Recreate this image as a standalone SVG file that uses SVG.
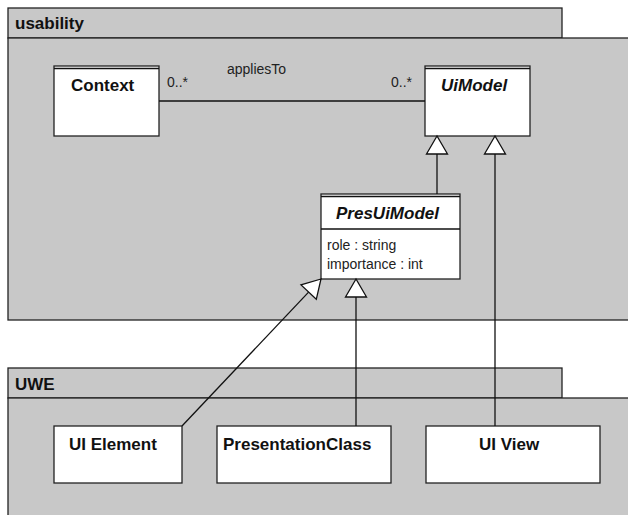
<svg xmlns="http://www.w3.org/2000/svg" width="628" height="515" viewBox="0 0 628 515">
  <style>
    .pkg { fill: #c8c8c8; stroke: #222; stroke-width: 1.3; }
    .cls { fill: #fff; stroke: #222; stroke-width: 1.3; }
    .edge { fill: none; stroke: #111; stroke-width: 1.3; }
    .tri { fill: #fff; stroke: #111; stroke-width: 1.3; stroke-linejoin: miter; }
    .title { font-family: "Liberation Sans", Arial, sans-serif; font-size: 17px; font-weight: bold; fill: #111; }
    .abstract { font-style: italic; }
    .small { font-family: "Liberation Sans", Arial, sans-serif; font-size: 14px; fill: #222; }
  </style>
  <rect width="628" height="515" fill="#fff"/>

  <!-- package: usability -->
  <g id="pkg-usability">
    <rect class="pkg" x="8" y="8" width="554" height="30"/>
    <rect class="pkg" x="8" y="38" width="625" height="282"/>
    <text class="title" x="15" y="29">usability</text>
  </g>

  <!-- package: UWE -->
  <g id="pkg-uwe">
    <rect class="pkg" x="8" y="368" width="554" height="30"/>
    <rect class="pkg" x="8" y="398" width="625" height="130"/>
    <text class="title" x="15" y="390">UWE</text>
  </g>

  <!-- classes -->
  <g id="cls-context">
    <rect class="cls" x="54" y="66" width="105" height="70"/>
    <line class="edge" x1="54" y1="68.5" x2="159" y2="68.5"/>
    <text class="title" x="71" y="91">Context</text>
  </g>

  <g id="cls-uimodel">
    <rect class="cls" x="425" y="66" width="105" height="70"/>
    <line class="edge" x1="425" y1="68.5" x2="530" y2="68.5"/>
    <text class="title abstract" x="441" y="91">UiModel</text>
  </g>

  <g id="cls-presuimodel">
    <rect class="cls" x="321" y="194" width="139" height="85"/>
    <line class="edge" x1="321" y1="196.5" x2="460" y2="196.5"/>
    <line class="edge" x1="321" y1="229" x2="460" y2="229"/>
    <text class="title abstract" x="336" y="219">PresUiModel</text>
    <text class="small" x="327" y="250">role : string</text>
    <text class="small" x="327" y="269">importance : int</text>
  </g>

  <g id="cls-uielement">
    <rect class="cls" x="54" y="426" width="128" height="57"/>
    <text class="title" x="69" y="450">UI Element</text>
  </g>

  <g id="cls-presentationclass">
    <rect class="cls" x="217" y="426" width="174" height="57"/>
    <text class="title" x="223" y="450">PresentationClass</text>
  </g>

  <g id="cls-uiview">
    <rect class="cls" x="426" y="426" width="174" height="57"/>
    <text class="title" x="479" y="450">UI View</text>
  </g>

  <!-- connectors -->
  <g id="connectors">
    <!-- association appliesTo -->
    <line class="edge" x1="159" y1="101" x2="425" y2="101"/>
    <text class="small" x="227" y="74">appliesTo</text>
    <text class="small" x="167" y="87">0..*</text>
    <text class="small" x="391" y="87">0..*</text>

    <!-- PresUiModel -> UiModel -->
    <line class="edge" x1="437" y1="154" x2="437" y2="194"/>
    <polygon class="tri" points="437,136 426.5,154 447.5,154"/>

    <!-- UI View -> UiModel -->
    <line class="edge" x1="495" y1="154" x2="495" y2="426"/>
    <polygon class="tri" points="495,136 484.5,154 505.5,154"/>

    <!-- PresentationClass -> PresUiModel -->
    <line class="edge" x1="356" y1="297" x2="356" y2="426"/>
    <polygon class="tri" points="356,279 345.5,297 366.5,297"/>

    <!-- UI Element -> PresUiModel -->
    <line class="edge" x1="182" y1="426" x2="308.6" y2="292.1"/>
    <polygon class="tri" points="321,279 301.0,284.9 316.3,299.3"/>
  </g>
</svg>
